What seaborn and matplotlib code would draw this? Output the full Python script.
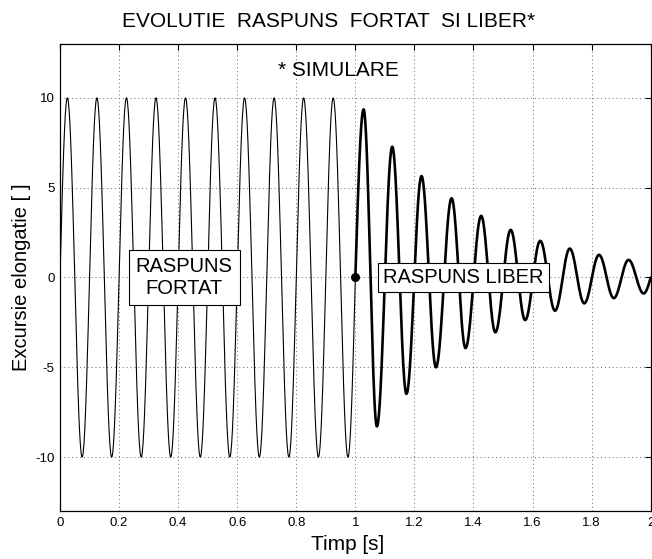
import numpy as np
import pandas as pd
import matplotlib
matplotlib.use("Agg")
import matplotlib.pyplot as plt
import seaborn as sns

# Forced response: constant amplitude, extrema every half period (10 Hz)
forced_t = [0.0, 0.025, 0.075, 0.125, 0.175, 0.225, 0.275, 0.325, 0.375, 0.425,
            0.475, 0.525, 0.575, 0.625, 0.675, 0.725, 0.775, 0.825, 0.875, 0.925,
            0.975, 1.0]
forced_v = [0.0, 10, -10, 10, -10, 10, -10, 10, -10, 10,
            -10, 10, -10, 10, -10, 10, -10, 10, -10, 10,
            -10, 0.0]

# Free response after release at t = 1 s: decaying extrema
free_t = [1.0, 1.028, 1.073, 1.125, 1.173, 1.224, 1.273, 1.326, 1.373, 1.426,
          1.474, 1.526, 1.575, 1.626, 1.676, 1.726, 1.775, 1.825, 1.875, 1.925,
          1.976, 2.0]
free_v = [0.0, 9.36, -8.29, 7.28, -6.48, 5.65, -5.00, 4.41, -3.93, 3.43,
          -3.05, 2.65, -2.37, 2.04, -1.85, 1.61, -1.44, 1.26, -1.15, 0.98,
          -0.89, 0.0]

release_t = [1.0]
release_v = [0.0]

x_ticks = [0, 0.2, 0.4, 0.6, 0.8, 1, 1.2, 1.4, 1.6, 1.8, 2]
x_tick_labels = ["0", "0.2", "0.4", "0.6", "0.8", "1", "1.2", "1.4", "1.6", "1.8", "2"]
y_ticks = [-10, -5, 0, 5, 10]
y_tick_labels = ["-10", "-5", "0", "5", "10"]


def oscillation(tk, vk, n=40):
    """Join successive zero crossings / extrema with sinusoidal arcs."""
    ts, ys = [], []
    for i in range(len(tk) - 1):
        a, b = vk[i], vk[i + 1]
        s = np.linspace(0, 1, n, endpoint=False)
        if a == 0:
            y = b * np.sin(np.pi / 2 * s)
        elif b == 0:
            y = a * np.cos(np.pi / 2 * s)
        else:
            y = a + (b - a) * (1 - np.cos(np.pi * s)) / 2
        ts.append(tk[i] + (tk[i + 1] - tk[i]) * s)
        ys.append(y)
    ts.append([tk[-1]])
    ys.append([vk[-1]])
    return pd.DataFrame({"t": np.concatenate(ts), "y": np.concatenate(ys)})


forced = oscillation(forced_t, forced_v)
free = oscillation(free_t, free_v)

sns.set_theme(style="white")
plt.rcParams["font.family"] = ["Liberation Sans", "DejaVu Sans"]
plt.rcParams.update({
    "xtick.direction": "in", "ytick.direction": "in",
    "xtick.top": True, "ytick.right": True,
    "xtick.major.size": 4, "ytick.major.size": 4,
    "xtick.major.width": 0.8, "ytick.major.width": 0.8,
    "xtick.color": "black", "ytick.color": "black",
    "text.color": "black", "axes.labelcolor": "black",
    "axes.edgecolor": "black", "axes.linewidth": 0.9,
})

fig = plt.figure(figsize=(6.52, 5.59), dpi=100)
ax = fig.add_axes([0.092, 0.0859, 0.906, 0.8354])

sns.lineplot(data=forced, x="t", y="y", sort=False, estimator=None,
             color="black", linewidth=0.8, ax=ax)
sns.lineplot(data=free, x="t", y="y", sort=False, estimator=None,
             color="black", linewidth=1.9, ax=ax)
ax.plot(release_t, release_v, "o", color="black", markersize=5.5, zorder=5)

ax.set_xlim(0, 2)
ax.set_ylim(-13, 13)
ax.set_xticks(x_ticks)
ax.set_xticklabels(x_tick_labels)
ax.set_yticks(y_ticks)
ax.set_yticklabels(y_tick_labels)
ax.tick_params(labelsize=9.5, pad=4)
ax.grid(True, color="#666666", linestyle=(0, (1, 3)), linewidth=0.7)
for sp in ax.spines.values():
    sp.set_visible(True)
    sp.set_color("black")

ax.set_title("EVOLUTIE  RASPUNS  FORTAT  SI LIBER*", fontsize=15, pad=12, x=0.454)
ax.set_xlabel("Timp [s]", fontsize=15, labelpad=5)
ax.xaxis.label.set_x(0.487)
ax.set_ylabel("Excursie elongatie [ ]", fontsize=14.5, labelpad=3)

ax.text(0.944, 11.5, "* SIMULARE", fontsize=15, ha="center", va="center")
box = dict(boxstyle="square,pad=0.35", facecolor="white", edgecolor="black", linewidth=0.8)
ax.text(0.42, 0.0, "RASPUNS\nFORTAT", fontsize=14.5, ha="center", va="center",
        linespacing=1.15, bbox=box, zorder=6)
ax.text(1.366, 0.0, "RASPUNS LIBER", fontsize=14.5, ha="center", va="center",
        bbox=dict(boxstyle="square,pad=0.25", facecolor="white", edgecolor="black",
                  linewidth=0.8), zorder=6)

fig.savefig("out.png", dpi=100)
